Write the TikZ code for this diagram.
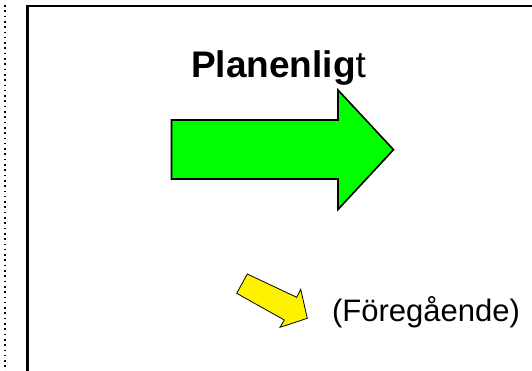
\documentclass[tikz,border=0pt]{standalone}
\usepackage{fontspec}
\setmainfont{Liberation Sans}
\usepackage{tikz}
\usetikzlibrary{positioning}
\tikzstyle{bigarrow}   = [draw=black, fill=green, line width=1.6pt, line join=miter]
\tikzstyle{smallarrow} = [draw=black, fill=yellow, line width=0.8pt, line join=miter]
\tikzstyle{frameline}  = [line width=2.2pt, line cap=rect]

\begin{document}
\begin{tikzpicture}[x=1pt, y=-1pt,
			label/.style={inner sep=0pt, anchor=base},
		]
		\useasboundingbox (0,0) rectangle (532,370);

		\draw[line width=1.6pt, dash pattern=on 1.6pt off 3.7pt] (5,5) -- (5,372);
		\draw[frameline] (27.5,375) -- (27.5,6) -- (540,6);

		\node[label] (plan) at (278.5,77) {\fontsize{37}{44}\selectfont\bfseries Planenlig\mdseries t};
		\node[label] (prev) at (426,321) {\fontsize{31}{37}\selectfont (Föregående)};

		\draw[bigarrow] (171.5,120) -- (338,120) -- (338,90) -- (393.5,149.7)
			-- (338,209.5) -- (338,179) -- (171.5,179) -- cycle;
		\draw[smallarrow] (247.3,274) -- (296.7,297.3) -- (300.7,289.3) -- (307.3,318.3)
			-- (280,327.3) -- (284.3,320) -- (236.7,293.3) -- cycle;
	\end{tikzpicture}
\end{document}
